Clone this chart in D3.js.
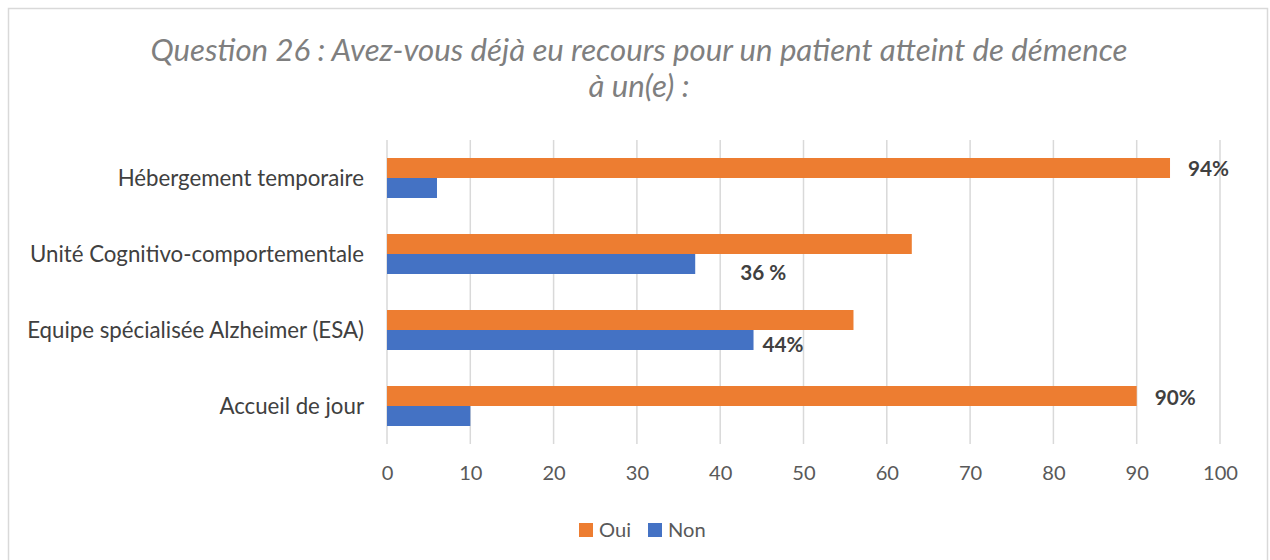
<!DOCTYPE html>
<html>
<head>
<meta charset="utf-8">
<script src="https://cdn.jsdelivr.net/npm/d3@7"></script>
<style>
  body { margin: 0; background: #fff; }
  svg { display: block; font-family: Lato, "Open Sans", sans-serif; }
</style>
</head>
<body>
<svg id="chart" width="1270" height="560"></svg>
<script>
// data
const categories = ["Hébergement temporaire", "Unité Cognitivo-comportementale",
                    "Equipe spécialisée Alzheimer (ESA)", "Accueil de jour"];
const seriesNames = ["Oui", "Non"];
const ouiValues = [94, 63, 56, 90];
const nonValues = [6, 37, 44, 10];
const xTicks = [0, 10, 20, 30, 40, 50, 60, 70, 80, 90, 100];
const labelCategories = ["Hébergement temporaire", "Unité Cognitivo-comportementale",
                         "Equipe spécialisée Alzheimer (ESA)", "Accueil de jour"];
const labelSeries = ["Oui", "Non", "Non", "Oui"];
const labelTexts = ["94%", "36 %", "44%", "90%"];
const titleLines = ["Question 26 : Avez-vous déjà eu recours pour un patient atteint de démence",
                    "à un(e) :"];

const colors = { Oui: "#ED7D31", Non: "#4472C4" };

const svg = d3.select("#chart");

// shrink/grow font so a text fits the width it has in the picture
function fitSize(sel, target) {
  const node = sel.node();
  const size = parseFloat(sel.attr("font-size"));
  const w = node.getComputedTextLength();
  sel.attr("font-size", (size * target / w).toFixed(2));
  return size * target / w;
}

// chart border
svg.append("rect")
  .attr("x", 8.5).attr("y", 8.5)
  .attr("width", 1259).attr("height", 580)
  .attr("fill", "none")
  .attr("stroke", "#d9d9d9")
  .attr("stroke-width", 1.5);

// title
const t1 = svg.append("text")
  .attr("x", 639).attr("y", 61)
  .attr("text-anchor", "middle")
  .attr("font-size", 28)
  .attr("font-style", "italic")
  .attr("fill", "#7f7f7f")
  .text(titleLines[0]);
const titleSize = fitSize(t1, 977);
svg.append("text")
  .attr("x", 639).attr("y", 97)
  .attr("text-anchor", "middle")
  .attr("font-size", titleSize)
  .attr("font-style", "italic")
  .attr("fill", "#7f7f7f")
  .text(titleLines[1]);

const x = d3.scaleLinear().domain([0, 100]).range([387, 1220]);
const y = d3.scaleBand().domain(categories).range([140, 444])
  .paddingInner(36 / 76).paddingOuter(18 / 76);
const ySub = d3.scaleBand().domain(seriesNames).range([0, y.bandwidth()]);

// gridlines
svg.append("g")
  .selectAll("line")
  .data(xTicks)
  .join("line")
  .attr("x1", d => x(d)).attr("x2", d => x(d))
  .attr("y1", 140).attr("y2", 444)
  .attr("stroke", "#d9d9d9")
  .attr("stroke-width", 1.5);

// x axis labels
const xAxis = svg.append("g")
  .attr("transform", "translate(0,444)")
  .call(d3.axisBottom(x).tickValues(xTicks).tickSize(0).tickPadding(22));
xAxis.select(".domain").remove();
xAxis.selectAll("text")
  .attr("font-family", "Lato")
  .attr("font-size", 20)
  .attr("fill", "#595959");
const tickSize = fitSize(xAxis.selectAll("text").filter(d => d === 100), 35);
xAxis.selectAll("text").attr("font-size", tickSize);

// category labels
const catLabels = svg.append("g")
  .selectAll("text")
  .data(categories)
  .join("text")
  .attr("x", 364)
  .attr("y", d => y(d) + y.bandwidth() / 2)
  .attr("dy", "0.35em")
  .attr("text-anchor", "end")
  .attr("font-size", 20)
  .attr("fill", "#404040")
  .text(d => d);
const catSize = fitSize(catLabels.filter(d => d === categories[1]), 334);
catLabels.attr("font-size", catSize);

// bars
const rows = categories.map((c, i) => ({ cat: c, Oui: ouiValues[i], Non: nonValues[i] }));
const groups = svg.append("g")
  .selectAll("g")
  .data(rows)
  .join("g")
  .attr("transform", d => `translate(0,${y(d.cat)})`);

groups.selectAll("rect")
  .data(d => seriesNames.map(s => ({ s, v: d[s] })))
  .join("rect")
  .attr("x", x(0))
  .attr("y", d => ySub(d.s))
  .attr("width", d => x(d.v) - x(0))
  .attr("height", ySub.bandwidth())
  .attr("fill", d => colors[d.s]);

// data labels, hand-placed in the original so nudged here
const nudge = { "94%": [18, 1], "36 %": [45, 9], "44%": [9, 5], "90%": [18, 2] };
const labelData = labelTexts.map((t, i) => {
  const ci = categories.indexOf(labelCategories[i]);
  const v = labelSeries[i] === "Oui" ? ouiValues[ci] : nonValues[ci];
  return { t, cat: labelCategories[i], s: labelSeries[i], v };
});
const dl = svg.append("g")
  .selectAll("text")
  .data(labelData)
  .join("text")
  .attr("x", d => x(d.v) + nudge[d.t][0])
  .attr("y", d => y(d.cat) + ySub(d.s) + ySub.bandwidth() / 2 + nudge[d.t][1])
  .attr("dy", "0.35em")
  .attr("font-size", 20)
  .attr("font-weight", "bold")
  .attr("fill", "#404040")
  .text(d => d.t);
const dlSize = fitSize(dl.filter(d => d.t === "90%"), 41);
dl.attr("font-size", dlSize);

// legend
const legend = svg.append("g").attr("transform", "translate(579,530)");
const legX = { Oui: 0, Non: 69 };
let legSize = null;
seriesNames.forEach(s => {
  legend.append("rect")
    .attr("x", legX[s]).attr("y", -7)
    .attr("width", 14).attr("height", 14)
    .attr("fill", colors[s]);
  const lt = legend.append("text")
    .attr("x", legX[s] + 20).attr("y", 0)
    .attr("dy", "0.35em")
    .attr("font-size", 20)
    .attr("fill", "#595959")
    .text(s);
  if (legSize === null) legSize = fitSize(lt, 32);
  else lt.attr("font-size", legSize);
});
</script>
</body>
</html>
